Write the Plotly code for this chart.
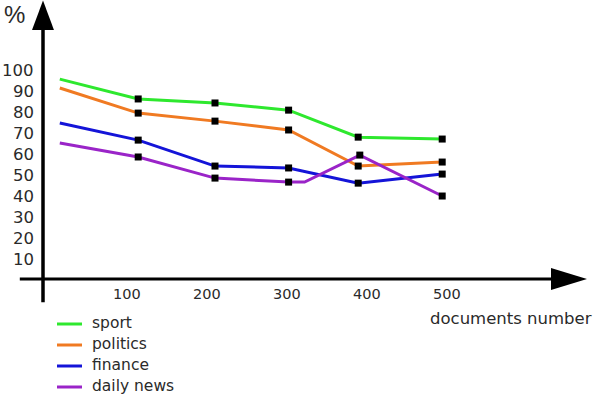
import plotly.graph_objects as go

# ---- data ----
docs = [16, 114, 210, 302, 389, 494]
sport = [95.7, 86.3, 84.4, 81.0, 68.2, 67.3]
politics = [91.5, 79.6, 75.8, 71.6, 54.5, 56.4]
finance = [74.9, 66.8, 54.5, 53.6, 46.4, 50.7]
daily_docs = [16, 114, 210, 302, 322, 391, 494]
daily_news = [65.4, 58.8, 48.8, 46.9, 46.9, 59.7, 40.3]
daily_marked = [False, True, True, True, False, True, True]

x_ticks = [100, 200, 300, 400, 500]
y_ticks = [10, 20, 30, 40, 50, 60, 70, 80, 90, 100]

series = [
    ("sport", docs, sport, "#2ee82e", [False, True, True, True, True, True]),
    ("politics", docs, politics, "#f07a22", [False, True, True, True, True, True]),
    ("finance", docs, finance, "#1414d8", [False, True, True, True, True, True]),
    ("daily news", daily_docs, daily_news, "#9a24c8", daily_marked),
]

FONT = "DejaVu Sans"
TXT = "#2a2a2a"

fig = go.Figure()
for name, xs, ys, col, marked in series:
    fig.add_trace(go.Scatter(x=xs, y=ys, mode="lines", line=dict(color=col, width=3),
                             showlegend=False, hoverinfo="skip"))
for name, xs, ys, col, marked in series:
    mx = [x for x, m in zip(xs, marked) if m]
    my = [y for y, m in zip(ys, marked) if m]
    fig.add_trace(go.Scatter(x=mx, y=my, mode="markers",
                             marker=dict(symbol="square", size=7, color="black"),
                             showlegend=False, hoverinfo="skip"))

# axes lines (data coords)
fig.add_shape(type="line", x0=-34, x1=632, y0=1, y1=1, line=dict(color="black", width=3))
fig.add_shape(type="line", x0=-5, x1=-5, y0=-10, y1=120, line=dict(color="black", width=3.5))
# arrow heads
fig.add_shape(type="path", path="M 630 6.2 L 675 1 L 630 -4.2 Z",
              fillcolor="black", line=dict(color="black", width=0))
fig.add_shape(type="path", path="M -18.7 119 L -5 133 L 8.7 119 Z",
              fillcolor="black", line=dict(color="black", width=0))

ann = []
for t in x_ticks:
    ann.append(dict(x=t, y=-6, text=str(t), showarrow=False,
                    font=dict(family=FONT, size=14.5, color=TXT),
                    xanchor="center", yanchor="middle"))
for t in y_ticks:
    ann.append(dict(x=-14, y=t, text=str(t), showarrow=False,
                    font=dict(family=FONT, size=16.5, color=TXT),
                    xanchor="right", yanchor="middle"))
ann.append(dict(xref="paper", yref="paper", x=2/598, y=1-15/395, text="%", showarrow=False,
                font=dict(family="Liberation Sans", size=24, color=TXT),
                xanchor="left", yanchor="middle"))
ann.append(dict(xref="paper", yref="paper", x=594/598, y=1-318/395, text="documents number",
                showarrow=False, font=dict(family=FONT, size=16.5, color=TXT),
                xanchor="right", yanchor="middle"))

leg_y = [324, 345, 366, 387]
for (name, xs, ys, col, marked), py in zip(series, leg_y):
    fig.add_shape(type="line", xref="paper", yref="paper", x0=57/598, x1=82/598,
                  y0=1-py/395, y1=1-py/395, line=dict(color=col, width=3))
    ann.append(dict(xref="paper", yref="paper", x=90/598, y=1-(py-1)/395, text=name,
                    showarrow=False, font=dict(family=FONT, size=15.5, color=TXT),
                    xanchor="left", yanchor="middle"))

fig.update_layout(
    width=598, height=395, margin=dict(l=0, r=0, t=0, b=0),
    paper_bgcolor="white", plot_bgcolor="white",
    xaxis=dict(range=[-58.75, 688.75], visible=False, fixedrange=True),
    yaxis=dict(range=[-54.0, 133.2], visible=False, fixedrange=True),
    annotations=ann, showlegend=False,
)
fig.write_html("out.html")
